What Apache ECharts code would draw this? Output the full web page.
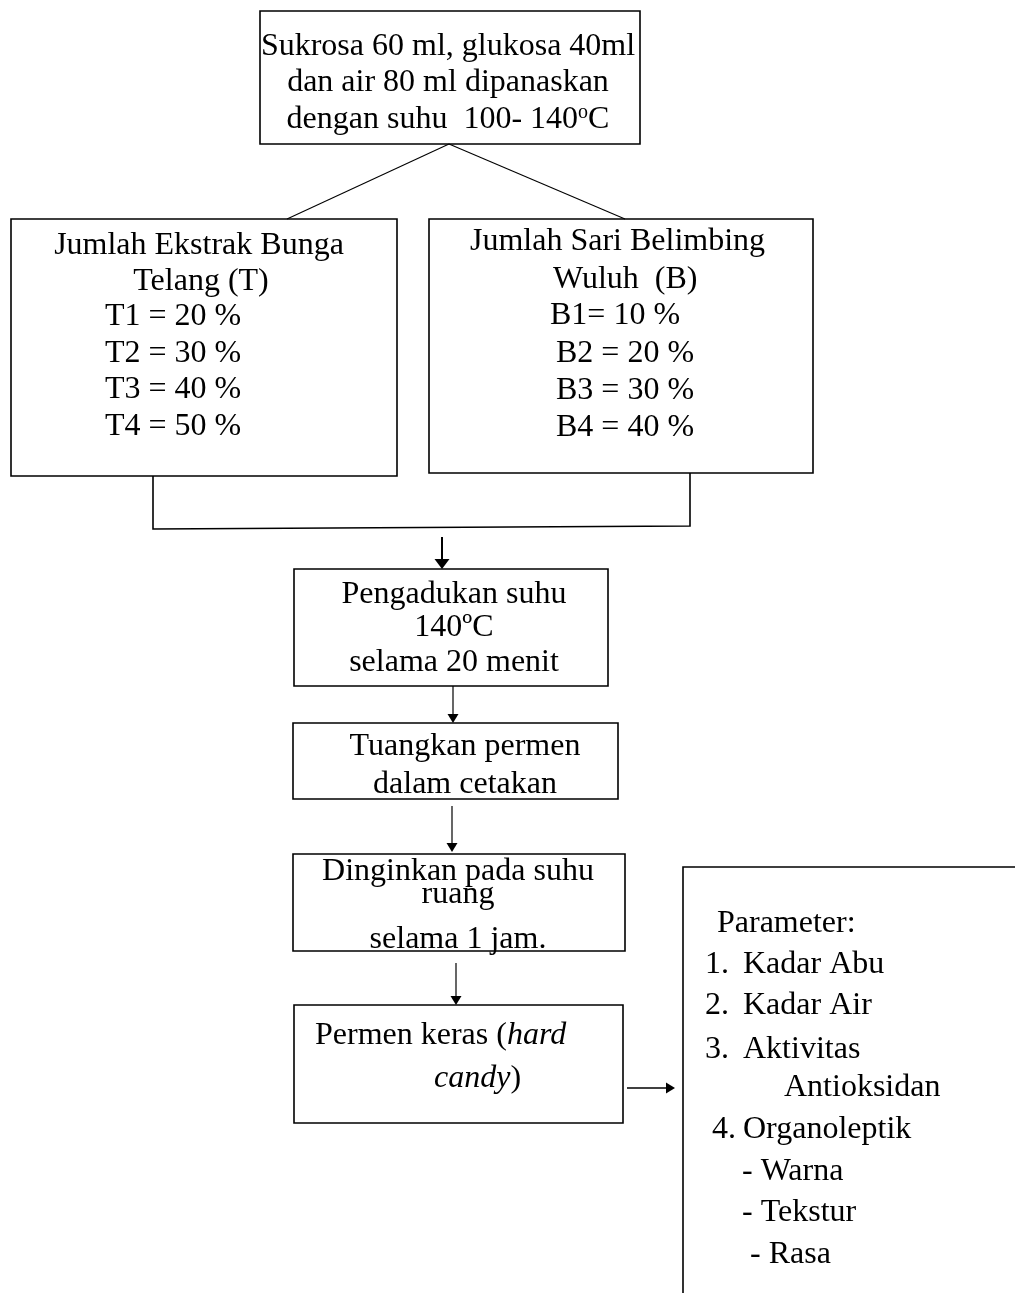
<!DOCTYPE html>
<html>
<head>
<meta charset="utf-8">
<script src="https://cdn.jsdelivr.net/npm/echarts@6/dist/echarts.min.js"></script>
<style>
html,body{margin:0;padding:0;background:#fff;}
#chart{width:1015px;height:1293px;}
</style>
</head>
<body>
<div id="chart"></div>
<script>
// ---- content (text data) ----
var mixIngredients = ['Sukrosa 60 ml, glukosa 40ml', 'dan air 80 ml dipanaskan', 'dengan suhu  100- 140{sup|o}C'];
var telangTitle = ['Jumlah Ekstrak Bunga', 'Telang (T)'];
var telangLevels = [20, 30, 40, 50];
var belimbingTitle = ['Jumlah Sari Belimbing', 'Wuluh  (B)'];
var belimbingLevels = [10, 20, 30, 40];
var stirStep = ['Pengadukan suhu', '140\u00baC', 'selama 20 menit'];
var pourStep = ['Tuangkan permen', 'dalam cetakan'];
var coolStep = ['Dinginkan pada suhu', 'ruang', 'selama 1 jam.'];
var productStep = ['Permen keras ({i|hard}', '{i|candy})'];
var paramTitle = 'Parameter:';
var paramNumbers = ['1.', '2.', '3.', '', '4.', '', '', ''];
var paramItems = ['Kadar Abu', 'Kadar Air', 'Aktivitas', 'Antioksidan', 'Organoleptik', '- Warna', '- Tekstur', '- Rasa'];

// ---- layout ----
var FONT = '"Liberation Serif", "Times New Roman", Times, serif';
var FS = 32;
var DY = 3;
var boxes = [
  [260, 11, 380, 133],
  [11, 219, 386, 257],
  [429, 219, 384, 254],
  [294, 569, 314, 117],
  [293, 723, 325, 76],
  [293, 854, 332, 97],
  [294, 1005, 329, 118]
];
var plainLines = [
  [[449,144],[287,219]],
  [[449,144],[625,219]],
  [[153,476],[153,529],[690,526],[690,473]],
  [[683,1300],[683,867],[1020,867]]
];
var arrows = [
  [[442,537],[442,569],2],
  [[453,686],[453,723],1.2],
  [[452,806],[452,852],1.2],
  [[456,963],[456,1005],1.2],
  [[627,1088],[675,1088],1.6]
];

var g = [];
boxes.forEach(function (b) {
  g.push({type:'rect', shape:{x:b[0], y:b[1], width:b[2], height:b[3]},
    style:{fill:'#fff', stroke:'#000', lineWidth:1.6}, z:1});
});
plainLines.forEach(function (pts, i) {
  g.push({type:'polyline', shape:{points:pts},
    style:{fill:null, stroke:'#000', lineWidth: i < 2 ? 1.1 : 1.6}, z:2});
});
arrows.forEach(function (a) {
  var p0 = a[0], p1 = a[1], w = a[2];
  var dx = p1[0]-p0[0], dy = p1[1]-p0[1];
  var len = Math.sqrt(dx*dx+dy*dy), ux = dx/len, uy = dy/len;
  var hl = w > 1.8 ? 10 : 9, hw = w > 1.8 ? 7.5 : 5.5;
  var bx = p1[0]-ux*hl, by = p1[1]-uy*hl;
  g.push({type:'line', shape:{x1:p0[0], y1:p0[1], x2:bx, y2:by},
    style:{stroke:'#000', lineWidth:w}, z:3});
  g.push({type:'polygon', shape:{points:[[p1[0],p1[1]],[bx-uy*hw,by+ux*hw],[bx+uy*hw,by-ux*hw]]},
    style:{fill:'#000'}, z:3});
});

function txt(s, x, y, align) {
  var st = {text:s, x:x, y:y + DY, fontFamily:FONT, fontSize:FS, fill:'#000',
    align:align, verticalAlign:'middle', textAlign:align, textVerticalAlign:'middle',
    rich:{
      sup:{fontFamily:FONT, fontSize:20, fill:'#000', verticalAlign:'top', padding:[0,0,14,0]},
      i:{fontFamily:FONT, fontSize:FS, fontStyle:'italic', fill:'#000'}
    }};
  g.push({type:'text', style:st, z:5});
}

// top box
var topY = [44, 80, 117];
mixIngredients.forEach(function (s, i) { txt(s, 448, topY[i], 'center'); });
// left box
txt(telangTitle[0], 199, 243, 'center');
txt(telangTitle[1], 201, 279, 'center');
var tY = [314, 351, 387, 424];
telangLevels.forEach(function (v, i) { txt('T' + (i+1) + ' = ' + v + ' %', 105, tY[i], 'left'); });
// right box
txt(belimbingTitle[0], 470, 239, 'left');
txt(belimbingTitle[1], 553, 277, 'left');
var bY = [313, 351, 388, 425];
belimbingLevels.forEach(function (v, i) {
  txt(i === 0 ? ('B1= ' + v + ' %') : ('B' + (i+1) + ' = ' + v + ' %'), i === 0 ? 550 : 556, bY[i], 'left');
});
// process boxes
var stirY = [592, 625, 660];
stirStep.forEach(function (s, i) { txt(s, 454, stirY[i], 'center'); });
var pourY = [744, 782];
pourStep.forEach(function (s, i) { txt(s, 465, pourY[i], 'center'); });
var coolY = [869, 892, 937];
coolStep.forEach(function (s, i) { txt(s, 458, coolY[i], 'center'); });
txt(productStep[0], 315, 1033, 'left');
txt(productStep[1], 434, 1076, 'left');
// parameter box
txt(paramTitle, 717, 921, 'left');
var pY = [962, 1003, 1047, 1085, 1127, 1169, 1210, 1252];
var numX = [705, 705, 705, 0, 712, 0, 0, 0];
var itemX = [743, 743, 743, 784, 743, 742, 742, 750];
paramItems.forEach(function (s, i) {
  if (paramNumbers[i]) txt(paramNumbers[i], numX[i], pY[i], 'left');
  txt(s, itemX[i], pY[i], 'left');
});

var chart = echarts.init(document.getElementById('chart'), null, {renderer:'canvas'});
chart.setOption({backgroundColor:'#fff', animation:false, graphic:{elements:g}});
</script>
</body>
</html>
